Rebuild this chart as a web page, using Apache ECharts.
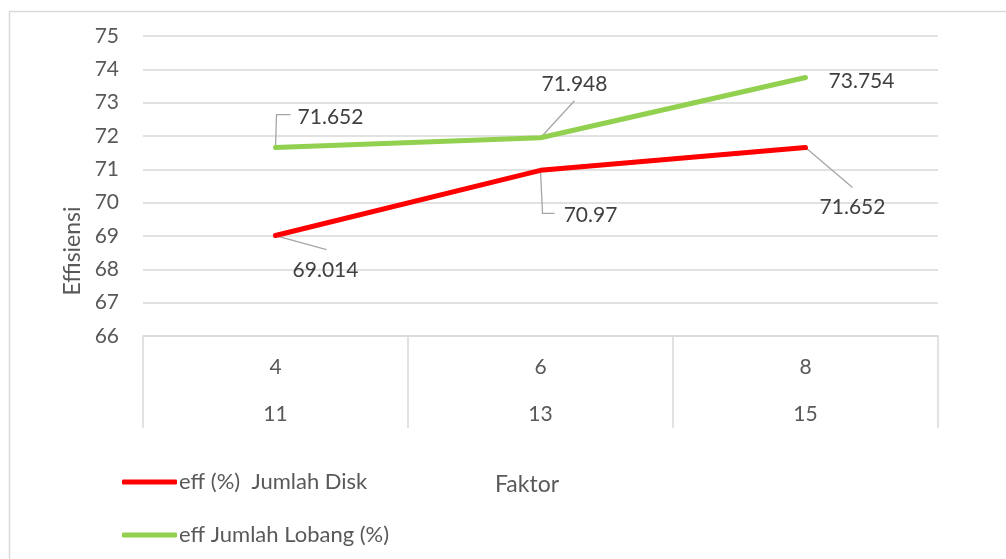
<!DOCTYPE html>
<html>
<head>
<meta charset="utf-8">
<script src="https://cdn.jsdelivr.net/npm/echarts@6/dist/echarts.min.js"></script>
<style>
html, body { margin: 0; padding: 0; background: #fff; }
#main { width: 1006px; height: 559px; }
</style>
</head>
<body>
<div id="main"></div>
<script>
// two-level category labels
var factorTop = ['4', '6', '8'];
var factorBottom = ['11', '13', '15'];
var diskName = 'eff (%)  Jumlah Disk';
var lobangName = 'eff Jumlah Lobang (%)';
var diskValues = [69.014, 70.97, 71.652];
var lobangValues = [71.652, 71.948, 73.754];
var yTicks = { min: 66, max: 75, interval: 1 };

// label shifts (dx, dy) from the default 'top' spot
var diskShift = [[50, 51], [50, 61], [47, 76]];
var lobangShift = [[55, -14], [34, -37], [56, 20]];
// leader line bends, in px relative to the data point
var diskLeader = [[[0, 0], [51, 14]], [[0, 0], [2, 43], [14, 43]], [[0, 0], [47, 40]]];
var lobangLeader = [[[0, 0], [1, -33], [15, -33]], [[0, 0], [34, -37]], null];

var categories = factorTop.map(function (a, i) { return a + '\n' + factorBottom[i]; });

var domMain = document.getElementById('main');
var myChart = echarts.init(domMain);
var font = 'Lato, "Open Sans", sans-serif';

function lineSeries(name, color, values, shift) {
    return {
        name: name,
        type: 'line',
        data: values,
        symbol: 'circle',
        symbolSize: 2,
        showSymbol: true,
        z: 3,
        lineStyle: { color: color, width: 5, cap: 'round', join: 'round' },
        itemStyle: { color: color },
        label: {
            show: true,
            position: 'top',
            fontFamily: font,
            fontSize: 21,
            color: '#404040'
        },
        labelLayout: function (p) {
            var s = shift[p.dataIndex];
            return { dx: s[0], dy: s[1] };
        }
    };
}

function leaderSeries(values, leaders) {
    return {
        type: 'custom',
        z: 2,
        silent: true,
        data: values.map(function (v, i) { return [i, v]; }),
        renderItem: function (params, api) {
            var bend = leaders[params.dataIndex];
            if (!bend) return null;
            var pt = api.coord([api.value(0), api.value(1)]);
            return {
                type: 'polyline',
                shape: { points: bend.map(function (b) { return [pt[0] + b[0], pt[1] + b[1]]; }) },
                style: { stroke: '#a6a6a6', lineWidth: 1.3, fill: null }
            };
        }
    };
}

var option = {
    animation: false,
    backgroundColor: '#fff',
    grid: { left: 143, right: 68, top: 36, bottom: 223 },
    legend: {
        orient: 'vertical',
        left: 117,
        top: 466,
        itemGap: 31,
        itemWidth: 55,
        itemHeight: 5,
        icon: 'roundRect',
        textStyle: { fontFamily: font, fontSize: 22, color: '#595959', padding: [0, 0, 0, -3] },
        data: [diskName, lobangName]
    },
    xAxis: {
        type: 'category',
        data: categories,
        boundaryGap: true,
        axisLine: { lineStyle: { color: '#d9d9d9', width: 1.5 } },
        axisTick: { show: true, length: 92, lineStyle: { color: '#d9d9d9', width: 1.5 } },
        axisLabel: {
            fontFamily: font,
            fontSize: 21,
            color: '#595959',
            lineHeight: 47,
            margin: 8
        }
    },
    yAxis: {
        type: 'value',
        min: yTicks.min,
        max: yTicks.max,
        interval: yTicks.interval,
        axisLine: { show: false },
        axisTick: { show: false },
        splitLine: { lineStyle: { color: '#d9d9d9', width: 1.5 } },
        axisLabel: { fontFamily: font, fontSize: 21, color: '#595959', margin: 24 }
    },
    graphic: [
        {
            type: 'rect',
            shape: { x: 9.5, y: 11.5, width: 1010, height: 560 },
            style: { fill: 'none', stroke: '#d9d9d9', lineWidth: 1.5 },
            silent: true
        },
        {
            type: 'text',
            x: 73, y: 251, rotation: Math.PI / 2,
            style: {
                text: 'Effisiensi', fontFamily: font, fontSize: 23, fill: '#595959',
                align: 'center', verticalAlign: 'middle'
            }
        },
        {
            type: 'text',
            x: 527, y: 485,
            style: {
                text: 'Faktor', fontFamily: font, fontSize: 23, fill: '#595959',
                align: 'center', verticalAlign: 'middle'
            }
        }
    ],
    series: [
        lineSeries(diskName, '#ff0000', diskValues, diskShift),
        lineSeries(lobangName, '#92d050', lobangValues, lobangShift),
        leaderSeries(diskValues, diskLeader),
        leaderSeries(lobangValues, lobangLeader)
    ]
};

myChart.setOption(option);
window.onresize = myChart.resize;
</script>
</body>
</html>
